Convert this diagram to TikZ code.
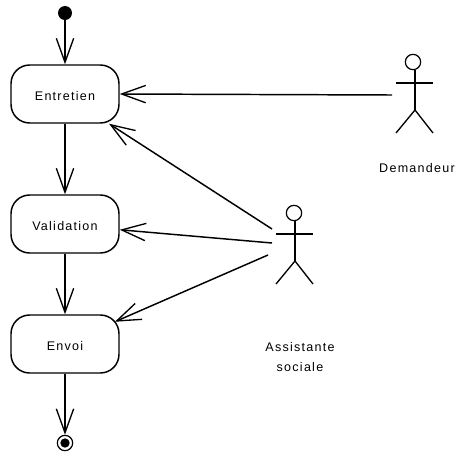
\documentclass[tikz,border=0pt]{standalone}
\usepackage{fontspec}
\setmainfont{Liberation Sans}[LetterSpace=10]
\usetikzlibrary{arrows.meta}
\begin{document}
\begin{tikzpicture}
[x=0.75pt,y=-0.75pt,
  statedecorate/.style={shape=rectangle,rounded corners=14pt,draw,line width=1.1pt,minimum width=81pt,minimum height=43.5pt,inner sep=0pt,text height=9.5pt,text depth=0pt,font=\fontsize{9.4}{10}\selectfont},%
  startdecorate/.style={shape=circle,fill=black,inner sep=0pt,minimum size=10.5pt},%
  enddecorate/.style={shape=circle,draw,line width=0.9pt,inner sep=0pt,minimum size=11.5pt},%
  innerdecorate/.style={shape=circle,fill=black,inner sep=0pt,minimum size=7pt},%
  headdecorate/.style={shape=circle,draw,line width=0.9pt,inner sep=0pt,minimum size=11.5pt},%
  textdecorate/.style={align=center,font=\fontsize{9.4}{15.7}\selectfont},%
  limbdecorate/.style={-,line width=1pt},%
  linedecorate/.style={-{Straight Barb[length=18pt,width=13pt,line width=1pt]},line width=1.1pt}]
\useasboundingbox (0,0) rectangle (461,454);
% nodes or vertices
\node (start) at (65,13) [startdecorate] {};
\node (entretien) at (65,94) [statedecorate] {Entretien};
\node (validation) at (65,224) [statedecorate] {Validation};
\node (envoi) at (65,344) [statedecorate] {Envoi};
\node (end) at (65,443) [enddecorate] {};
\node (endin) at (end) [innerdecorate] {};
% actors
\node (demandeur) at (413,62) [headdecorate] {};
\node (assistante) at (294,213) [headdecorate] {};
\foreach \actor/\x/\y in {demandeur/415/70,assistante/295/221} {
  \coordinate (\actor hip) at (\x,\y+40);
  \draw[limbdecorate] (\x,\y) -- (\actor hip);
  \draw[limbdecorate] (\x-19,\y+13) -- (\x+18,\y+13);
  \draw[limbdecorate] (\x-19,\y+63) -- (\actor hip) -- (\x+18,\y+63);
}
\node (demandeurtext) at (417,168) [textdecorate] {Demandeur};
\node (assistantetext) at (300,357) [textdecorate] {Assistante\\sociale};
% free ends of the lines
\coordinate (demandeurhand) at (392,95);
\coordinate (assistanteup) at (272,229);
\coordinate (assistantemid) at (272,243);
\coordinate (assistantelow) at (268,255);
% edges or lines
\path
(start) edge[linedecorate] (entretien)
(entretien) edge[linedecorate] (validation)
(validation) edge[linedecorate] (envoi)
(envoi) edge[linedecorate] (end)
(demandeurhand) edge[linedecorate] (entretien.east)
(assistanteup) edge[linedecorate] (entretien.-34.6)
(assistantemid) edge[linedecorate] (validation.-6.3)
(assistantelow) edge[linedecorate,shorten >=-4pt] (envoi.24);
\end{tikzpicture}
\end{document}
